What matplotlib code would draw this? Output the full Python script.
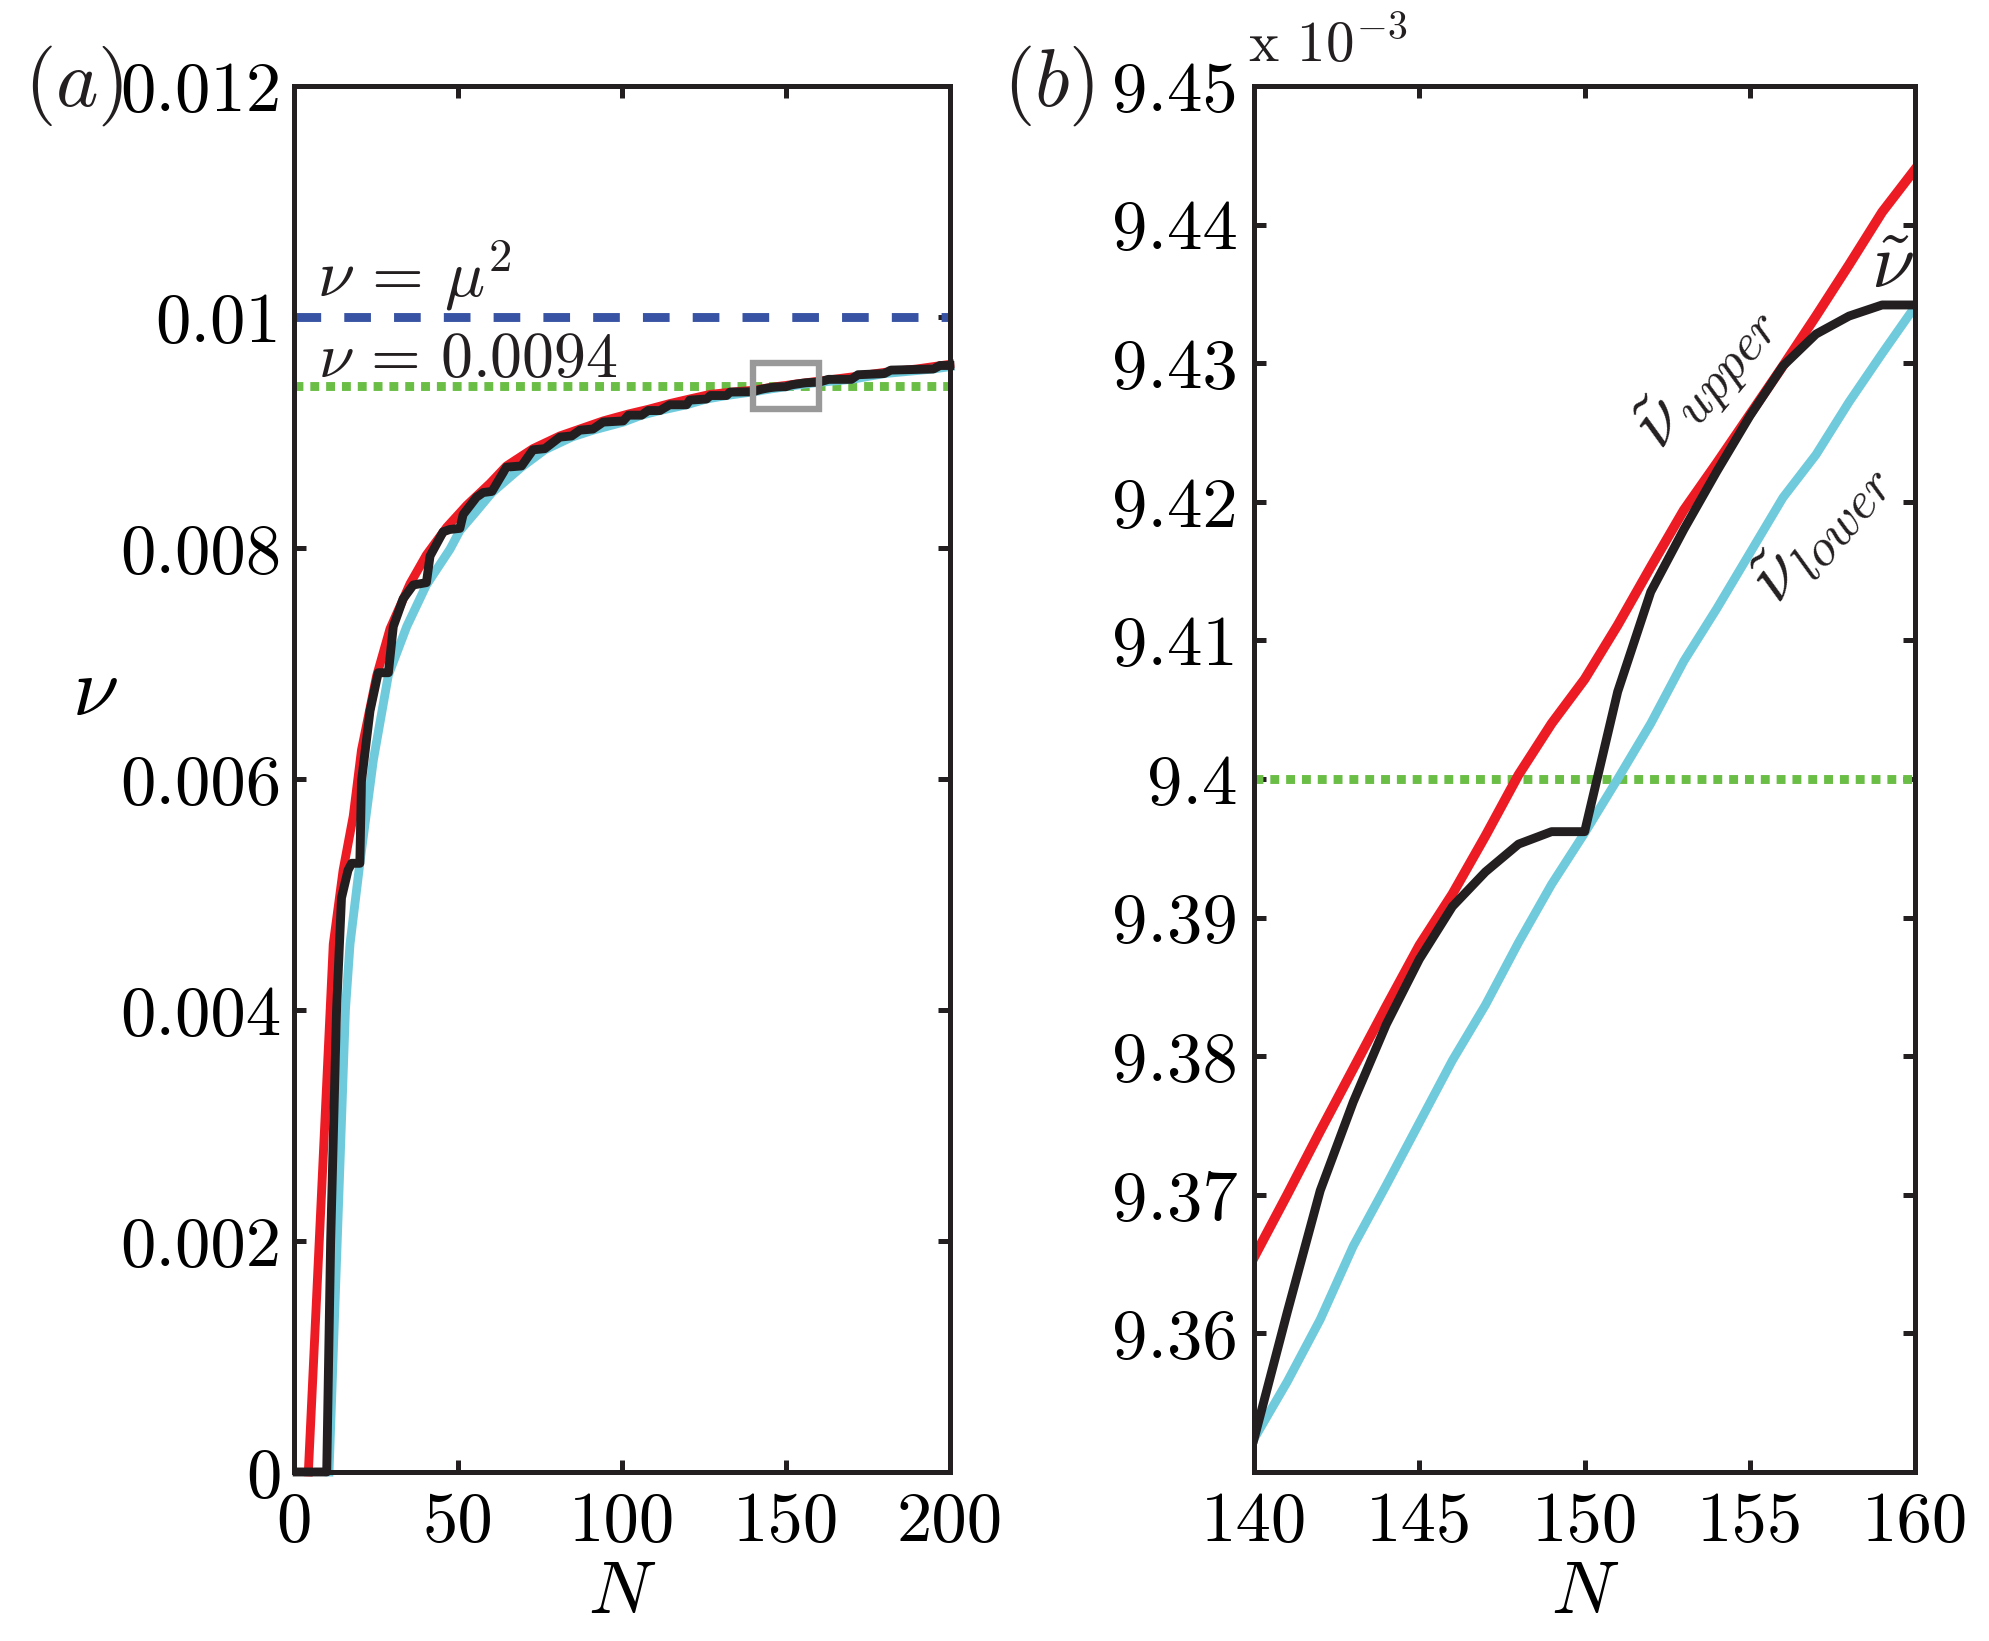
import matplotlib
matplotlib.use('Agg')
import matplotlib.pyplot as plt
from matplotlib.patches import Rectangle

plt.rcParams['font.family'] = ['cmr10', 'DejaVu Serif']
plt.rcParams['mathtext.fontset'] = 'cm'
plt.rcParams['axes.unicode_minus'] = False

# ---------------- data ----------------
# panel (b): zoom on N = 140..160, values in units of 1e-3
N_b = list(range(140, 161))
upper_b = [9.3655, 9.3700, 9.3746, 9.3791, 9.3836, 9.3880, 9.3917, 9.3959, 9.4003, 9.4040,
           9.4072, 9.4111, 9.4153, 9.4194, 9.4228, 9.4263, 9.4298, 9.4334, 9.4371, 9.4409, 9.4440]
lower_b = [9.3524, 9.3565, 9.3610, 9.3663, 9.3707, 9.3752, 9.3797, 9.3837, 9.3882, 9.3924,
           9.3961, 9.4000, 9.4040, 9.4085, 9.4123, 9.4163, 9.4203, 9.4234, 9.4272, 9.4307, 9.4341]
tilde_b = [9.3524, 9.3615, 9.3703, 9.3767, 9.3823, 9.3870, 9.3908, 9.3933, 9.3953, 9.3962,
           9.3962, 9.4063, 9.4135, 9.4180, 9.4222, 9.4262, 9.4298, 9.4321, 9.4334, 9.4342, 9.4342]

# panel (a): full range, before and after the zoomed window
N_upper_lo = [4.4, 12, 15, 18.1, 20.6, 25.2, 29.3, 35.4, 40.4, 46.6, 52.7, 59.8, 64.8, 72.9,
              81.1, 87.2, 94.3, 102, 108, 114.6, 120.7, 127, 133]
upper_lo = [0, 0.00457, 0.00521, 0.00568, 0.00625, 0.00689, 0.00730, 0.00769, 0.00794, 0.00818,
            0.00837, 0.00856, 0.00871, 0.00886, 0.00897, 0.00903, 0.00910, 0.00916, 0.00920,
            0.00925, 0.00929, 0.00933, 0.009348]
N_upper_hi = [170, 180, 190, 200]
upper_hi = [0.00948, 0.00952, 0.00955, 0.00959]

N_lower_lo = [10.7, 13.2, 15.7, 17.1, 20.1, 24.2, 28.8, 34.4, 40.4, 47.6, 50.6, 55.7, 60.4,
              69.4, 76.5, 84.7, 91.2, 100.4, 106, 111.6, 119.7, 125.8, 131.9]
lower_lo = [0, 0.002, 0.004, 0.00457, 0.00527, 0.00616, 0.00690, 0.00732, 0.00768, 0.00799,
            0.00815, 0.00832, 0.00848, 0.00870, 0.00885, 0.00896, 0.00902, 0.00909, 0.00915,
            0.00919, 0.00924, 0.00929, 0.00932]
N_lower_hi = [170, 180, 195, 200]
lower_hi = [0.00946, 0.00951, 0.00955, 0.00957]

N_tilde_lo = [1, 10, 11.2, 13, 14.5, 16.5, 17.6, 20.1, 20.6, 23.2, 25.7, 28.8, 30.3, 33.3,
              36.4, 40.4, 41.5, 45.5, 47.5, 50.6, 51.6, 55.7, 57.7, 60.4, 64.8, 69.4, 72.9,
              76.5, 81.1, 84.7, 87.2, 91.2, 94.3, 100.4, 102, 106, 108, 111.6, 114.6, 119.7,
              120.7, 125.8, 127, 131.9, 133]
tilde_lo = [0, 0, 0.002, 0.004, 0.00497, 0.00521, 0.00527, 0.00527, 0.00598, 0.00659, 0.00692,
            0.00692, 0.00732, 0.00756, 0.00768, 0.00770, 0.00793, 0.00814, 0.00816, 0.00817,
            0.00829, 0.00844, 0.00848, 0.00849, 0.00870, 0.00871, 0.00885, 0.00886, 0.00896,
            0.00897, 0.00902, 0.00903, 0.00909, 0.00910, 0.00915, 0.00915, 0.00919, 0.00919,
            0.00924, 0.00924, 0.00928, 0.00929, 0.00932, 0.00932, 0.00935]
N_tilde_hi = [163, 170, 172, 180, 182, 195, 197, 200]
tilde_hi = [0.00946, 0.00946, 0.00950, 0.00951, 0.00954, 0.00955, 0.00958, 0.00958]

nu_mu2 = 0.01
nu_star = 0.0094
box_N = (140, 160)
box_nu = (0.0092, 0.0096)

xticks_a = [0, 50, 100, 150, 200]
yticks_a = [0, 0.002, 0.004, 0.006, 0.008, 0.01, 0.012]
yticklabels_a = ['0', '0.002', '0.004', '0.006', '0.008', '0.01', '0.012']
xticks_b = [140, 145, 150, 155, 160]
yticks_b = [9.36, 9.37, 9.38, 9.39, 9.40, 9.41, 9.42, 9.43, 9.44, 9.45]
yticklabels_b = ['9.36', '9.37', '9.38', '9.39', '9.4', '9.41', '9.42', '9.43', '9.44', '9.45']

# ---------------- style ----------------
RED = '#ed1c24'
CYAN = '#6fcbdc'
BLACK = '#231f20'
GREEN = '#6abd45'
BLUE = '#3953a4'
GRAY = '#999999'
LW = 3.2
TICK_FS = 25.5

fig = plt.figure(figsize=(9.95, 8.205), dpi=200)
ax1 = fig.add_axes([0.1477, 0.1030, 0.3296, 0.8446])
ax2 = fig.add_axes([0.6302, 0.1030, 0.3322, 0.8446])


def style_axes(ax, pad):
    for s in ax.spines.values():
        s.set_linewidth(1.8)
        s.set_color(BLACK)
        s.set_zorder(10)
    ax.tick_params(direction='in', length=4.3, width=1.8, color=BLACK,
                   top=True, right=True, labelsize=TICK_FS, pad=pad)
    ax.tick_params(axis='x', pad=7)


# ---------- panel (a) ----------
scale = 1e-3
Nu = N_upper_lo + N_b + N_upper_hi
vu = upper_lo + [v * scale for v in upper_b] + upper_hi
Nl = N_lower_lo + N_b + N_lower_hi
vl = lower_lo + [v * scale for v in lower_b] + lower_hi
Nt = N_tilde_lo + N_b + N_tilde_hi
vt = tilde_lo + [v * scale for v in tilde_b] + tilde_hi

ax1.axhline(nu_mu2, color=BLUE, lw=LW, ls=(0, (3.0, 2.6)), dash_capstyle='butt', zorder=2)
ax1.axhline(nu_star, color=GREEN, lw=LW, ls=(0, (1.0, 0.78)), dash_capstyle='butt', zorder=2)
ax1.plot(Nu, vu, color=RED, lw=LW, zorder=3, clip_on=False)
ax1.plot(Nl, vl, color=CYAN, lw=LW, zorder=3, clip_on=False)
ax1.plot(Nt, vt, color=BLACK, lw=LW, zorder=4, clip_on=False)
ax1.add_patch(Rectangle((box_N[0], box_nu[0]), box_N[1] - box_N[0], box_nu[1] - box_nu[0],
                        fill=False, edgecolor=GRAY, lw=2.3, zorder=6))

ax1.set_xlim(0, 200)
ax1.set_ylim(0, 0.012)
ax1.set_xticks(xticks_a)
ax1.set_xticklabels([str(t) for t in xticks_a])
ax1.set_yticks(yticks_a)
ax1.set_yticklabels(yticklabels_a)
style_axes(ax1, 4.5)

ax1.text(7, 0.010176, r'$\nu\,=\,\mu^2$', fontsize=24, color=BLACK, ha='left', va='baseline')
ax1.text(7.3, 0.009483, r'$\nu\,=\,0.0094$', fontsize=23, color=BLACK, ha='left', va='baseline')

ax1.set_xlabel(r'$N$', fontsize=27)
ax1.xaxis.set_label_coords(0.5, -0.088)
ax1.xaxis.label.set_va('center')
ax1.set_ylabel(r'$\nu$', fontsize=30, rotation=0)
ax1.yaxis.set_label_coords(-0.304, 0.561)
ax1.yaxis.label.set_va('center')
ax1.yaxis.label.set_ha('center')

# ---------- panel (b) ----------
ax2.axhline(nu_star / scale, color=GREEN, lw=LW, ls=(0, (1.0, 0.78)), dash_capstyle='butt', zorder=2)
ax2.plot(N_b, lower_b, color=CYAN, lw=LW, zorder=3)
ax2.plot(N_b, upper_b, color=RED, lw=3.5, zorder=3)
ax2.plot(N_b, tilde_b, color=BLACK, lw=LW, zorder=4)

ax2.set_xlim(140, 160)
ax2.set_ylim(9.35, 9.45)
ax2.set_xticks(xticks_b)
ax2.set_xticklabels([str(t) for t in xticks_b])
ax2.set_yticks(yticks_b)
ax2.set_yticklabels(yticklabels_b)
style_axes(ax2, 6)

ax2.text(153.7, 9.4290, r'$\tilde{\nu}_{upper}$', fontsize=27, rotation=50,
         rotation_mode='anchor', ha='center', va='center', color=BLACK)
ax2.text(157.1, 9.4180, r'$\tilde{\nu}_{lower}$', fontsize=27, rotation=50,
         rotation_mode='anchor', ha='center', va='center', color=BLACK)
ax2.text(159.3, 9.4368, r'$\tilde{\nu}$', fontsize=28, ha='center', va='center', color=BLACK)

ax2.set_xlabel(r'$N$', fontsize=27)
ax2.xaxis.set_label_coords(0.5, -0.088)
ax2.xaxis.label.set_va('center')

# panel letters and exponent
fig.text(0.0123, 0.948, r'$(a)$', fontsize=29, ha='left', va='center', color=BLACK)
fig.text(0.504, 0.948, r'$(b)$', fontsize=29, ha='left', va='center', color=BLACK)
fig.text(0.627, 0.962, r'x $10^{-3}$', fontsize=20.5, ha='left', va='baseline', color=BLACK)

fig.savefig('out.png', dpi=200, facecolor='white')
